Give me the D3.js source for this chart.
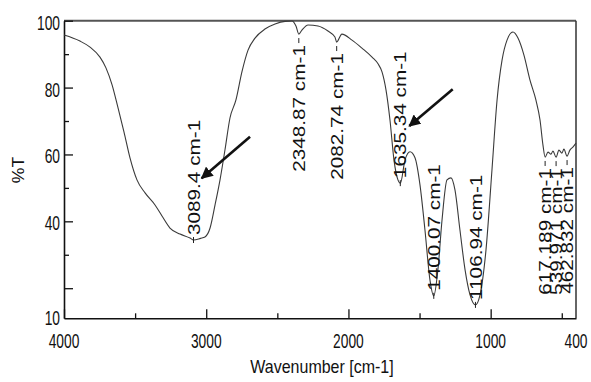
<!DOCTYPE html>
<html>
<head>
<meta charset="utf-8">
<script src="https://cdn.jsdelivr.net/npm/d3@7"></script>
<style>
  html, body { margin: 0; padding: 0; background: #fff; }
  svg { display: block; }
  text { font-family: "Liberation Sans", Arial, sans-serif; fill: #111; }
</style>
</head>
<body>
<svg id="chart" width="591" height="382"></svg>
<script>
// FT-IR spectrum: wavenumber (cm-1) against transmittance (%T)
const wavenumbers = [
  4000, 3888, 3817, 3747, 3705, 3662, 3620, 3578, 3536, 3487, 3430, 3360, 3311, 3255,
  3184, 3114, 3089, 3040, 3009, 2973, 2938, 2903, 2868, 2833, 2791, 2749, 2706, 2657,
  2587, 2516, 2446, 2397, 2369, 2349, 2327, 2284, 2214, 2144, 2095, 2083, 2046, 1975,
  1905, 1834, 1792, 1764, 1736, 1708, 1680, 1652, 1635, 1602, 1567, 1532, 1497, 1462,
  1427, 1400, 1371, 1342, 1307, 1279, 1251, 1216, 1180, 1145, 1107, 1075, 1033, 991,
  955, 920, 885, 843, 808, 766, 724, 682, 653, 632, 617, 597, 576, 562,
  540, 520, 499, 485, 463, 443, 422, 400
];
const transmittance = [
  95.7, 93.9, 92.1, 89.1, 85.9, 80.8, 73.9, 66.7, 59.0, 52.4, 48.5, 44.9, 41.6, 38.0,
  36.2, 35.0, 34.4, 34.9, 35.3, 38.0, 44.9, 52.4, 61.4, 70.9, 76.3, 84.7, 91.2, 94.8,
  97.5, 99.0, 99.8, 99.9, 98.4, 96.0, 97.2, 98.7, 98.4, 96.9, 95.1, 93.6, 96.0, 94.2,
  91.8, 89.1, 87.1, 84.7, 79.3, 70.3, 58.4, 52.4, 51.4, 58.4, 60.8, 59.0, 50.9, 37.4,
  22.5, 17.7, 25.5, 40.4, 52.4, 53.0, 49.4, 37.4, 25.5, 18.0, 15.0, 18.0, 31.4, 55.3,
  76.3, 88.2, 94.2, 96.6, 94.8, 89.7, 82.3, 76.3, 70.3, 62.7, 59.2, 60.7, 60.1, 61.0,
  59.2, 61.3, 60.4, 61.6, 59.5, 61.3, 62.2, 63.4
];

// Picked peaks
const peakWavenumbers = [3089.4, 2348.87, 2082.74, 1635.34, 1400.07, 1106.94, 617.189, 539.971, 462.832];
const peakLabels = ["3089.4 cm-1", "2348.87 cm-1", "2082.74 cm-1", "1635.34 cm-1", "1400.07 cm-1",
                    "1106.94 cm-1", "617.189 cm-1", "539.971 cm-1", "462.832 cm-1"];

// Axis ticks
const xTickValues = [4000, 3500, 3000, 2500, 2000, 1500, 1000, 500];
const xTickLabels = ["4000", "3000", "2000", "1000", "400"];
const xTickLabelValues = [4000, 3000, 2000, 1000, 400];
const yTickValues = [100, 90, 80, 70, 60, 50, 40, 30, 20];
const yTickLabels = ["100", "80", "60", "40", "10"];
const yTickLabelValues = [100, 80, 60, 40, 11];

// Arrow annotations (data units)
const arrowFromWn = [2692, 1267];
const arrowFromT = [65.3, 79.5];
const arrowToWn = [3032, 1572];
const arrowToT = [52.9, 68.5];

// ---- layout ----
const plot = { left: 64, right: 576, top: 20.7, bottom: 318.3 };
const svg = d3.select("#chart");

const x = d3.scaleLinear().domain([4000, 400]).range([plot.left, plot.right]);
const y = d3.scaleLinear().domain([11, 100]).range([plot.bottom, plot.top]);
const curveAt = d3.scaleLinear().domain(wavenumbers).range(transmittance);

// plot frame
const frame = svg.append("g");
frame.append("line").attr("x1", plot.left).attr("x2", plot.right).attr("y1", plot.top).attr("y2", plot.top)
  .attr("stroke", "#555").attr("stroke-width", 2);
frame.append("line").attr("x1", plot.right).attr("x2", plot.right).attr("y1", plot.top).attr("y2", plot.bottom)
  .attr("stroke", "#333").attr("stroke-width", 1.5);

// bottom axis (ticks point into the plot)
const xAxis = d3.axisTop(x).tickValues(xTickValues).tickSizeOuter(0).tickFormat("")
  .tickSizeInner(9);
const gx = svg.append("g").attr("transform", `translate(0,${plot.bottom})`).call(xAxis);
gx.select(".domain").attr("stroke", "#111").attr("stroke-width", 1.6);
gx.selectAll(".tick line").attr("stroke", "#111").attr("stroke-width", 1.3)
  .attr("y2", d => (d % 1000 === 0 ? -9 : -5));

// left axis (ticks point into the plot)
const yAxis = d3.axisRight(y).tickValues(yTickValues).tickSizeOuter(0).tickFormat("")
  .tickSizeInner(9);
const gy = svg.append("g").attr("transform", `translate(${plot.left},0)`).call(yAxis);
gy.select(".domain").attr("stroke", "#111").attr("stroke-width", 1.6);
gy.selectAll(".tick line").attr("stroke", "#111").attr("stroke-width", 1.3)
  .attr("x2", d => (d % 20 === 0 ? 9 : 5));

// tick labels, drawn narrow and slightly stretched vertically
const tickFont = 15, tickStretch = 1.3, tickSqueeze = 0.92;
svg.append("g").selectAll("text").data(xTickLabelValues).join("text")
  .attr("transform", d => `translate(${x(d)},347.5) scale(${tickSqueeze},${tickStretch})`)
  .attr("text-anchor", "middle").attr("font-size", tickFont)
  .text((d, i) => xTickLabels[i]);

svg.append("g").selectAll("text").data(yTickLabelValues).join("text")
  .attr("transform", d => `translate(60,${Math.min(y(d) + 9, 325)}) scale(${tickSqueeze},${tickStretch})`)
  .attr("text-anchor", "end").attr("font-size", tickFont)
  .text((d, i) => yTickLabels[i]);

// axis titles
svg.append("text")
  .attr("transform", `translate(322,373) scale(1,1.2)`)
  .attr("text-anchor", "middle").attr("font-size", 16)
  .text("Wavenumber [cm-1]");
svg.append("text")
  .attr("transform", `translate(24,170) scale(1,1.1) rotate(-90)`)
  .attr("text-anchor", "middle").attr("font-size", 16)
  .text("%T");

// spectrum
const line = d3.line()
  .x((d, i) => x(wavenumbers[i]))
  .y(d => y(d))
  .curve(d3.curveMonotoneX);
svg.append("path")
  .datum(transmittance)
  .attr("d", line)
  .attr("fill", "none")
  .attr("stroke", "#3a3a3a")
  .attr("stroke-width", 1.1)
  .attr("stroke-linejoin", "round");

// peak labels: bands that start at the peak and run upward, or hang below it
const labelsAbovePeak = new Set([3089.4, 1635.34, 1400.07, 1106.94]);
const labelFont = 17, labelStretch = 1.22;
const peaks = svg.append("g");
peakWavenumbers.forEach((wn, i) => {
  const px = x(wn), py = y(curveAt(wn));
  const above = labelsAbovePeak.has(wn);
  // peak marker
  peaks.append("line")
    .attr("x1", px).attr("x2", px)
    .attr("y1", above ? py + 3 : py + 4).attr("y2", above ? py - 3 : py + 9)
    .attr("stroke", "#222").attr("stroke-width", 1);
  peaks.append("text")
    .attr("transform", `translate(${px},${above ? py - 5 : py + 11}) scale(1,${labelStretch}) rotate(-90)`)
    .attr("text-anchor", above ? "start" : "end")
    .attr("dy", "0.36em")
    .attr("font-size", labelFont)
    .text(peakLabels[i]);
});

// arrows
const defs = svg.append("defs");
defs.append("marker")
  .attr("id", "arrowhead")
  .attr("viewBox", "0 0 10 10")
  .attr("refX", 9).attr("refY", 5)
  .attr("markerWidth", 4.6).attr("markerHeight", 4.6)
  .attr("orient", "auto")
  .append("path").attr("d", "M0,0 L10,5 L0,10 Z").attr("fill", "#111");

svg.append("g").selectAll("line").data(arrowFromWn).join("line")
  .attr("x1", (d, i) => x(arrowFromWn[i]))
  .attr("y1", (d, i) => y(arrowFromT[i]))
  .attr("x2", (d, i) => x(arrowToWn[i]))
  .attr("y2", (d, i) => y(arrowToT[i]))
  .attr("stroke", "#111").attr("stroke-width", 2.6)
  .attr("marker-end", "url(#arrowhead)");
</script>
</body>
</html>
